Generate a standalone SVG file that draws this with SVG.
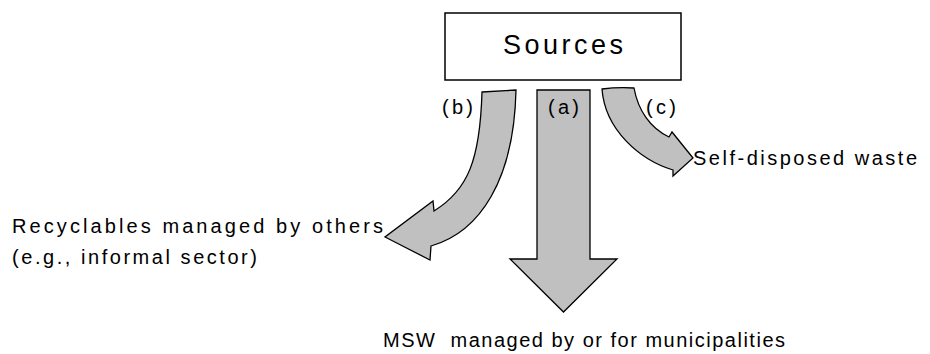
<svg xmlns="http://www.w3.org/2000/svg" width="930" height="354" viewBox="0 0 930 354">
<style>
.box{fill:#ffffff;stroke:#000000;stroke-width:1.5}
.arr{fill:#c0c0c0;stroke:#000000;stroke-width:1.3;stroke-linejoin:miter}
text{font-family:"Liberation Sans","DejaVu Sans",sans-serif;fill:#000000;white-space:pre}
.lbl{font-size:20px}
.big{font-size:27px}
</style>
<rect width="930" height="354" fill="#ffffff"/>
<g id="sources">
<rect class="box" x="445" y="13" width="236" height="67"/>
<text class="big" x="503" y="54" textLength="120" lengthAdjust="spacing">Sources</text>
</g>
<g id="connectors">
<g id="arrow-a">
<path class="arr" d="M537,90 L590,90 L590,259 L617,259 L563.5,312 L510,259 L537,259 Z"/>
<text class="lbl" x="548" y="114" textLength="31" lengthAdjust="spacing">(a)</text>
</g>
<g id="arrow-b">
<path class="arr" d="M482,92 L516,90 C514,180 480,232 431,246 L430,260 L385,237 L433,201 L434,211 C468,190 480,160 482,92 Z"/>
<text class="lbl" x="442" y="114" textLength="31" lengthAdjust="spacing">(b)</text>
</g>
<g id="arrow-c">
<path class="arr" d="M602,89 Q618,87 634,88 C638,110 650,128 669,137 L672,132 L693,158 L673,176 L673,170 C640,160 605,130 602,89 Z"/>
<text class="lbl" x="646" y="114" textLength="30" lengthAdjust="spacing">(c)</text>
</g>
</g>
<g id="self-disposed">
<text class="lbl" x="693" y="165" textLength="224" lengthAdjust="spacing">Self-disposed waste</text>
</g>
<g id="recyclables">
<text class="lbl" x="12" y="233" textLength="371" lengthAdjust="spacing">Recyclables managed by others</text>
<text class="lbl" x="12" y="264" textLength="245" lengthAdjust="spacing">(e.g., informal sector)</text>
</g>
<g id="msw">
<text class="lbl" x="383" y="347" textLength="402" lengthAdjust="spacing" xml:space="preserve">MSW  managed by or for municipalities</text>
</g>
</svg>
